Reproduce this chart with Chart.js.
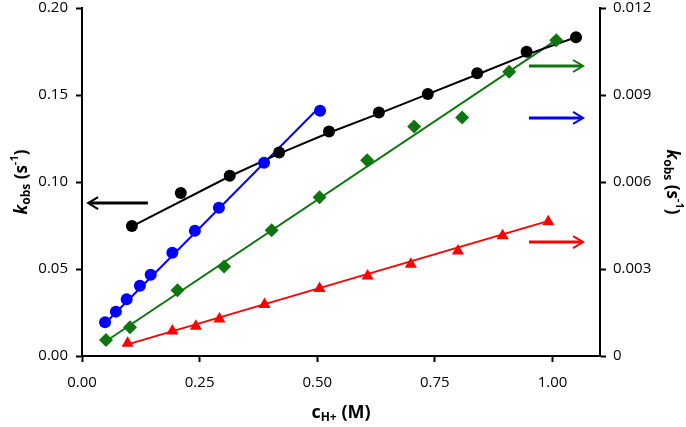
<!DOCTYPE html>
<html>
<head>
<meta charset="utf-8">
<script src="https://cdn.jsdelivr.net/npm/chart.js@4.4.0/dist/chart.umd.min.js"></script>
<style>
  html, body { margin: 0; padding: 0; background: #fff; }
  #wrap { width: 686px; height: 427px; }
</style>
</head>
<body>
<div id="wrap"><canvas id="myChart" width="686" height="427"></canvas></div>
<script>
// tick labels
const xTicks = [0, 0.25, 0.5, 0.75, 1.0];
const yTicks = [0, 0.05, 0.1, 0.15, 0.2];
const y2Ticks = [0, 0.003, 0.006, 0.009, 0.012];

// black series (left axis)
const blackX = [0.106, 0.21, 0.314, 0.419, 0.525, 0.631, 0.735, 0.840, 0.945, 1.050];
const blackY = [0.0747, 0.0937, 0.1036, 0.117, 0.129, 0.140, 0.1506, 0.1625, 0.1749, 0.1832];
const blackFitX = [0.106, 0.314, 0.419, 0.525, 0.631, 0.735, 0.840, 0.945, 1.050];
const blackFitY = [0.0745, 0.1033, 0.1163, 0.1283, 0.1393, 0.1505, 0.1618, 0.1732, 0.1832];

// blue series (right axis)
const blueX = [0.049, 0.072, 0.095, 0.123, 0.146, 0.192, 0.240, 0.291, 0.387, 0.506];
const blueY = [0.00116, 0.00153, 0.00196, 0.00242, 0.0028, 0.00356, 0.00432, 0.00511, 0.00666, 0.00846];
const blueFitX = [0.049, 0.508];
const blueFitY = [0.00112, 0.00864];

// green series (right axis)
const greenX = [0.051, 0.102, 0.203, 0.302, 0.403, 0.505, 0.606, 0.706, 0.808, 0.908, 1.008];
const greenY = [0.00055, 0.00099, 0.00227, 0.00309, 0.00434, 0.00547, 0.00675, 0.00791, 0.00822, 0.0098, 0.01089];
const greenFitX = [0.05, 1.01];
const greenFitY = [0.0005, 0.01092];

// red series (right axis)
const redX = [0.097, 0.192, 0.242, 0.292, 0.388, 0.505, 0.607, 0.699, 0.799, 0.894, 0.991];
const redY = [0.00044, 0.00086, 0.00103, 0.00128, 0.00178, 0.00233, 0.00276, 0.00316, 0.00362, 0.00415, 0.00463];
const redFitX = [0.097, 0.99];
const redFitY = [0.0004, 0.00465];

// arrows pointing to the axis each series belongs to
const arrows = [
  {axis: 'y', x1: 0.140, x2: 0.013, y: 0.0879, color: '#000000'},
  {axis: 'y2', x1: 0.950, x2: 1.065, y: 0.0100, color: '#107510'},
  {axis: 'y2', x1: 0.950, x2: 1.065, y: 0.00821, color: '#0000ff'},
  {axis: 'y2', x1: 0.950, x2: 1.065, y: 0.00393, color: '#ff0000'},
];

const GREEN = '#107510';
const zip = (xs, ys) => xs.map((x, i) => ({x: x, y: ys[i]}));

function fitLine(xs, ys, color, axis) {
  return {data: zip(xs, ys), yAxisID: axis, showLine: true, borderColor: color,
    borderWidth: 2, pointRadius: 0, fill: false, order: 2};
}
function pts(xs, ys, color, axis, style, r) {
  return {data: zip(xs, ys), yAxisID: axis, showLine: false, pointStyle: style,
    pointRadius: r, backgroundColor: color, borderColor: color, borderWidth: 0, order: 1};
}

// draws mixed text pieces (italic / sub / super) centered on 0,0
function drawRich(ctx, parts) {
  let w = 0;
  parts.forEach(p => { ctx.font = p.font; p.w = ctx.measureText(p.t).width; w += p.w; });
  let x = -w / 2;
  ctx.textBaseline = 'middle';
  ctx.textAlign = 'left';
  parts.forEach(p => { ctx.font = p.font; ctx.fillText(p.t, x, p.dy || 0); x += p.w; });
}

const FONT = "'Open Sans', sans-serif";
const kParts = () => [
  {t: 'k', font: 'italic bold 17px ' + FONT},
  {t: 'obs', font: 'bold 12px ' + FONT, dy: 5},
  {t: ' (s', font: 'bold 17px ' + FONT},
  {t: '-1', font: 'bold 11px ' + FONT, dy: -7},
  {t: ')', font: 'bold 17px ' + FONT},
];

const extras = {
  id: 'extras',
  afterDatasetsDraw(chart) {
    const ctx = chart.ctx;
    const xs = chart.scales.x;
    ctx.save();
    arrows.forEach(a => {
      const ys = chart.scales[a.axis];
      const px1 = xs.getPixelForValue(a.x1), px2 = xs.getPixelForValue(a.x2);
      const py = ys.getPixelForValue(a.y);
      const dir = Math.sign(px2 - px1);
      ctx.strokeStyle = a.color;
      ctx.lineWidth = 3;
      ctx.beginPath();
      ctx.moveTo(px1, py);
      ctx.lineTo(px2 - dir * 1.5, py);
      ctx.stroke();
      ctx.lineWidth = 2;
      ctx.beginPath();
      ctx.moveTo(px2 - dir * 10, py - 6);
      ctx.lineTo(px2, py);
      ctx.lineTo(px2 - dir * 10, py + 6);
      ctx.stroke();
    });
    ctx.restore();
  },
  afterDraw(chart) {
    const ctx = chart.ctx;
    const area = chart.chartArea;
    const midY = (area.top + area.bottom) / 2;
    ctx.save();
    ctx.fillStyle = '#000';
    // left title
    ctx.save();
    ctx.translate(22, midY);
    ctx.rotate(-Math.PI / 2);
    drawRich(ctx, kParts());
    ctx.restore();
    // right title
    ctx.save();
    ctx.translate(672, midY);
    ctx.rotate(Math.PI / 2);
    drawRich(ctx, kParts());
    ctx.restore();
    // x title
    ctx.save();
    ctx.translate((area.left + area.right) / 2, 413);
    drawRich(ctx, [
      {t: 'c', font: 'bold 18px ' + FONT},
      {t: 'H+', font: 'bold 12px ' + FONT, dy: 5},
      {t: ' (M)', font: 'bold 18px ' + FONT},
    ]);
    ctx.restore();
    ctx.restore();
  }
};

function axisStyle() {
  return {
    border: {display: true, color: '#000', width: 2},
    grid: {display: true, drawOnChartArea: false, color: '#000', tickLength: 6, tickWidth: 2},
  };
}

const config = {
  type: 'scatter',
  data: {
    datasets: [
      fitLine(blackFitX, blackFitY, '#000000', 'y'),
      fitLine(blueFitX, blueFitY, '#0000ff', 'y2'),
      fitLine(greenFitX, greenFitY, GREEN, 'y2'),
      fitLine(redFitX, redFitY, '#ff0000', 'y2'),
      pts(blackX, blackY, '#000000', 'y', 'circle', 6),
      pts(blueX, blueY, '#0000ff', 'y2', 'circle', 6),
      pts(greenX, greenY, GREEN, 'y2', 'rectRot', 7),
      pts(redX, redY, '#ff0000', 'y2', 'triangle', 7),
    ]
  },
  options: {
    responsive: false,
    animation: false,
    layout: {padding: {top: 0, left: 0, right: 0, bottom: 0}},
    plugins: {legend: {display: false}, tooltip: {enabled: false}},
    scales: {
      x: Object.assign(axisStyle(), {
        type: 'linear', min: 0, max: 1.101, position: 'bottom',
        afterBuildTicks: s => { s.ticks = xTicks.map(v => ({value: v})); },
        afterFit: s => { s.height = 71; },
        ticks: {color: '#000', font: {family: FONT, size: 15}, padding: 12,
          maxRotation: 0, callback: v => Number(v).toFixed(2)},
      }),
      y: Object.assign(axisStyle(), {
        type: 'linear', min: 0, max: 0.2, position: 'left',
        afterBuildTicks: s => { s.ticks = yTicks.map(v => ({value: v})); },
        afterFit: s => { s.width = 82; s.paddingTop = 8; s.paddingBottom = 0; },
        ticks: {color: '#000', font: {family: FONT, size: 15}, padding: 8,
          callback: v => Number(v).toFixed(2)},
      }),
      y2: Object.assign(axisStyle(), {
        type: 'linear', min: 0, max: 0.012, position: 'right',
        afterBuildTicks: s => { s.ticks = y2Ticks.map(v => ({value: v})); },
        afterFit: s => { s.width = 86; s.paddingTop = 8; s.paddingBottom = 0; },
        ticks: {color: '#000', font: {family: FONT, size: 15}, padding: 7,
          callback: v => v === 0 ? '0' : Number(v).toFixed(3)},
      }),
    }
  },
  plugins: [extras]
};

var ctx = document.getElementById('myChart').getContext('2d');
var myChart = new Chart(ctx, config);
</script>
</body>
</html>
